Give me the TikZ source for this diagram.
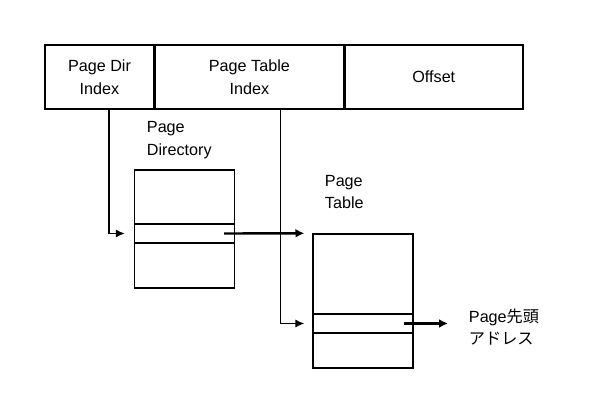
\documentclass[tikz,border=0pt]{standalone}
\usepackage{fontspec}
\setmainfont{Liberation Sans}
\newfontfamily\jpfont{Noto Sans CJK JP}
\usetikzlibrary{arrows.meta,positioning,calc}

\begin{document}
\begin{tikzpicture}[
  font=\fontsize{11.5}{16}\selectfont,
  field/.style={draw,line width=1pt,rectangle,minimum height=1.6cm,inner sep=0pt,align=center},
  tbl/.style={draw,line width=1pt,rectangle,minimum width=2.5cm,inner sep=0pt},
  link/.style={line width=1pt,-{Latex[length=2.2mm,width=2mm]}},
  ptr/.style={line width=1.7pt,-{Latex[length=2.2mm,width=2.2mm]}}]
\useasboundingbox (0,0) rectangle (15,10.025);

% Linear address
\node[field,minimum width=2.725cm] (pdi) at (2.4875,8.1) {Page Dir\\Index};
\node[field,minimum width=4.7cm,right=0pt of pdi] (pti) {Page Table\\Index};
\node[field,minimum width=4.45cm,right=0pt of pti] (off) {Offset};

% Page directory
\node[tbl,minimum height=2.95cm] (pdir) at (4.6125,4.3) {};
\node[tbl,minimum height=0.475cm] (pdrow) at (4.6125,4.1875) {};
\node[anchor=west,align=left] (pdlbl) at (3.55,6.525) {Page\\Directory};

% Page table
\node[tbl,minimum height=3.35cm] (ptbl) at (9.075,2.5) {};
\node[tbl,minimum height=0.475cm] (ptrow) at (9.075,1.9375) {};
\node[anchor=west,align=left] (ptlbl) at (8.0,5.225) {Page\\Table};

% Result
\node[anchor=west,align=left] (addr) at (11.6,1.85) {Page{\jpfont 先頭}\\{\jpfont アドレス}};
\coordinate (addrin) at (11.2,1.9375);

% Connectors
\draw[link] ([xshift=0.2375cm]pdi.south) |- ([xshift=-0.225cm]pdrow.west);
\draw[link] ([xshift=0.775cm]pti.south) |- ([xshift=-0.2cm]ptrow.west);
\draw[ptr] ([xshift=-0.275cm]pdrow.east) -- ([xshift=-0.2cm]ptbl.north west);
\draw[ptr] ([xshift=-0.25cm]ptrow.east) -- (addrin);
\end{tikzpicture}
\end{document}
